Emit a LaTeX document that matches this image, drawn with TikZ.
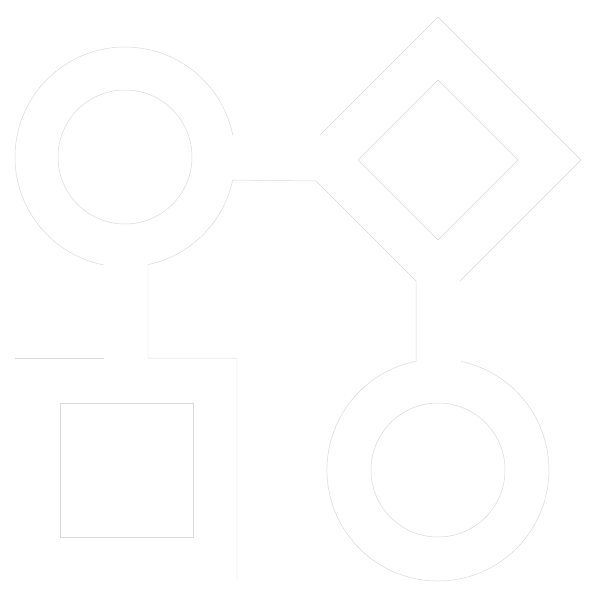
\documentclass[tikz,border=0pt]{standalone}
\usepackage{tikz}
\usetikzlibrary{calc}
\begin{document}
\begin{tikzpicture}[x=0.05cm, y=-0.05cm,
    outline/.style={draw=black!15, line width=0.7pt, line join=miter}]
  \fill[white] (0,0) rectangle (600,600);
  \useasboundingbox (0,0) rectangle (600,600);
  \coordinate (ringA) at (125,157);
  \coordinate (ringB) at (438,470);
  \coordinate (kite) at (438,160);
  % rings
  \draw[outline] (ringA) circle[radius=67];
  \draw[outline] (ringB) circle[radius=67];
  \draw[outline] (ringA) ++(101:110) arc[start angle=101, end angle=348.5, radius=110];
  % links
  \draw[outline] (237,580) -- (237,358) -- (148,358) -- (148,264.6)
    arc[start angle=78, end angle=12.1, radius=110] -- (316,181) -- (416,281)
    -- (416,361.2) arc[start angle=258.6, end angle=-78, radius=111];
  \draw[outline] (15,358) -- (104,358);
  % diamond
  \draw[outline] (320,135) -- ($(kite)+(0,-143)$) -- ($(kite)+(143,0)$) -- (460,281);
  \draw[outline] ($(kite)+(0,-80)$) -- ($(kite)+(80,0)$) -- ($(kite)+(0,80)$)
    -- ($(kite)+(-80,0)$) -- cycle;
  % square
  \draw[outline] (60,403) rectangle (193,537);
\end{tikzpicture}
\end{document}
